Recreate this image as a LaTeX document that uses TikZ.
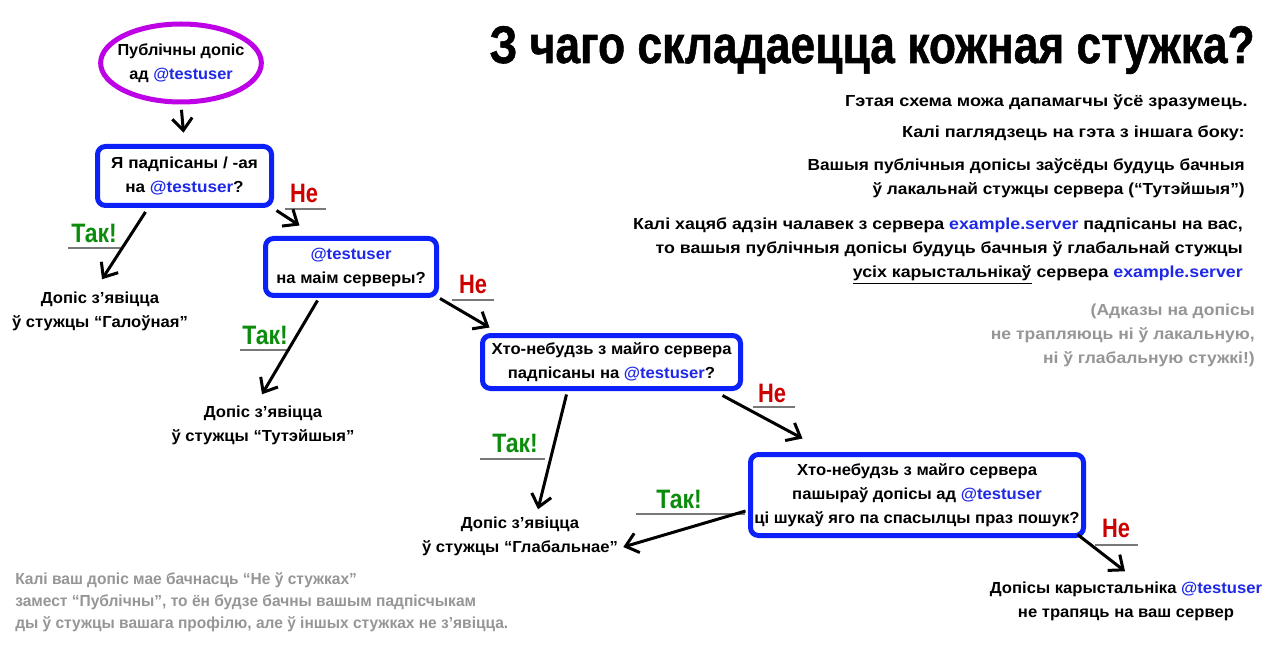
\documentclass[tikz,border=0pt]{standalone}
\usepackage{fontspec}
\usepackage{graphicx}
\setmainfont{Liberation Sans}
\usetikzlibrary{shapes.geometric,arrows.meta,calc}
\definecolor{boxblue}{RGB}{12,32,250}
\definecolor{userblue}{RGB}{30,40,230}
\definecolor{ellpurple}{RGB}{190,0,230}
\definecolor{yesgreen}{RGB}{12,140,12}
\definecolor{nored}{RGB}{205,0,0}
\definecolor{notegray}{RGB}{150,150,150}
\definecolor{linegray}{RGB}{120,120,120}
\newcommand{\usr}{\textcolor{userblue}{@testuser}}
\newcommand{\srv}{\textcolor{userblue}{example.server}}
\newcommand{\bodyfnt}[1]{\fontsize{12}{18}\selectfont\bfseries\addfontfeatures{FakeStretch=#1}}
\begin{document}
\begin{tikzpicture}[x=0.75pt,y=-0.75pt,
  txt/.style={font=\bodyfnt{1.04}, align=center, inner sep=0pt},
  qbox/.style={txt, draw=boxblue, line width=3.75pt, rounded corners=6pt},
  lbl/.style={font=\fontsize{20}{24}\selectfont\bfseries, inner sep=0pt},
  arr/.style={line width=2.25pt, -{Straight Barb[length=9pt,width=15pt]}},
  uline/.style={line width=0.9pt, draw=linegray},
  note/.style={inner sep=0pt},
]
\useasboundingbox (0,0) rectangle (1280,648);
\fill[white] (0,0) rectangle (1280,648);

% title
\node[anchor=base east, inner sep=0pt] (title) at (1255,63)
  {\resizebox{573.75pt}{27.75pt}{\bfseries\addfontfeatures{FakeBold=1.1}З чаго складаецца кожная стужка?}};

% right notes
\node[note, font=\bodyfnt{1.13}, anchor=east] (n1) at (1248,102) {Гэтая схема можа дапамагчы ўсё зразумець.};
\node[note, font=\bodyfnt{1.13}, anchor=east] (n2) at (1245,133) {Калі паглядзець на гэта з іншага боку:};
\node[note, font=\bodyfnt{1.08}, anchor=east, align=right] (n3) at (1245,178)
  {Вашыя публічныя допісы заўсёды будуць бачныя\\ ў лакальнай стужцы сервера (“Тутэйшыя”)};
\node[note, font=\bodyfnt{1.11}, anchor=east, align=right] (n4) at (1243,251)
  {Калі хацяб адзін чалавек з сервера \srv{} падпісаны на вас,\\
   то вашыя публічныя допісы будуць бачныя ў глабальнай стужцы\\
   \underline{усіх карыстальнікаў} сервера \srv};
\node[note, font=\bodyfnt{1.095}, anchor=east, align=right, text=notegray] (n5) at (1255,335)
  {(Адказы на допісы\\ не трапляюць ні ў лакальную,\\ ні ў глабальную стужкі!)};
\node[anchor=west, align=left, inner sep=0pt, text=notegray,
  font=\fontsize{12}{16.5}\selectfont\bfseries\addfontfeatures{FakeStretch=0.97}] (n6) at (15,602)
  {Калі ваш допіс мае бачнасць “Не ў стужках”\\
   замест “Публічны”, то ён будзе бачны вашым падпісчыкам\\
   ды ў стужцы вашага профілю, але ў іншых стужках не з’явіцца.};

% start ellipse
\node[txt, font=\bodyfnt{1.02}, ellipse, draw=ellpurple, line width=3.75pt, inner xsep=-5pt,
  minimum width=117.75pt, minimum height=58.5pt] (start) at (181,63)
  {Публічны допіс\\ ад \usr};

% question boxes
\node[qbox, font=\bodyfnt{1.07}, minimum width=130.5pt, minimum height=44.25pt] (q1) at (184.5,176)
  {Я падпісаны / -ая\\ на \usr?};
\node[qbox, minimum width=128.25pt, minimum height=42.75pt] (q2) at (351,267)
  {\usr\\ на маім серверы?};
\node[qbox, minimum width=193.5pt, minimum height=39.75pt] (q3) at (611.5,362)
  {Хто-небудзь з майго сервера\\ падпісаны на \usr?};
\node[qbox, minimum width=249.75pt, minimum height=60.75pt] (q4) at (917,495)
  {Хто-небудзь з майго сервера\\ пашыраў допісы ад \usr\\ ці шукаў яго па спасылцы праз пошук?};

% results
\node[txt] (r1) at (100,311) {Допіс з’явіцца\\ ў стужцы “Галоўная”};
\node[txt] (r2) at (263,425) {Допіс з’явіцца\\ ў стужцы “Тутэйшыя”};
\node[txt] (r3) at (520,536) {Допіс з’явіцца\\ ў стужцы “Глабальнае”};
\node[txt] (r4) at (1126,601) {Допісы карыстальніка \usr\\ не трапяць на ваш сервер};

% labels
\node[lbl, text=yesgreen] (y1) at (94,233) {\scalebox{0.86}[1]{Так!}};
\node[lbl, text=nored] (no1) at (304,193) {\scalebox{0.82}[1]{Не}};
\node[lbl, text=yesgreen] (y2) at (265,335) {\scalebox{0.86}[1]{Так!}};
\node[lbl, text=nored] (no2) at (473,284) {\scalebox{0.82}[1]{Не}};
\node[lbl, text=yesgreen] (y3) at (515,443) {\scalebox{0.86}[1]{Так!}};
\node[lbl, text=nored] (no3) at (772,393) {\scalebox{0.82}[1]{Не}};
\node[lbl, text=yesgreen] (y4) at (679,499) {\scalebox{0.86}[1]{Так!}};
\node[lbl, text=nored] (no4) at (1116,528) {\scalebox{0.82}[1]{Не}};

% underlines
\draw[uline] (68,248) -- (121,248);
\draw[uline] (285,209) -- (326,209);
\draw[uline] (240,350) -- (290,350);
\draw[uline] (452,300) -- (494,300);
\draw[uline] (480,459) -- (545,459);
\draw[uline] (753,407) -- (795,407);
\draw[uline] (636,514) -- (745,514);
\draw[uline] (1095,545) -- (1138,545);

% connectors
\draw[arr, shorten <=4pt, shorten >=8.5pt] (start.south) -- (q1.north);
\draw[arr] ($(q1.south west)+(50.5,4)$) -- ($(r1.north)+(2,-12)$);
\draw[arr] ($(q1.south east)+(2.5,2.5)$) -- ($(q2.north west)+(36.5,-10.5)$);
\draw[arr] ($(q2.south west)+(54.5,2.5)$) -- ($(r2.north)+(-1,-11)$);
\draw[arr] ($(q2.south east)+(1,0.5)$) -- ($(q3.north west)+(9.5,-5.5)$);
\draw[arr] ($(q3.south west)+(86.5,3.5)$) -- ($(r3.north)+(18,-7)$);
\draw[arr] ($(q3.south east)+(-20.5,4.5)$) -- ($(q4.north west)+(54.5,-13.5)$);
\draw[arr] ($(q4.west)+(-2.5,16)$) -- ($(r3.east)+(5,11)$);
\draw[arr] ($(q4.south east)+(-8.5,-3.5)$) -- ($(r4.north)+(-1,-10)$);
\end{tikzpicture}
\end{document}
